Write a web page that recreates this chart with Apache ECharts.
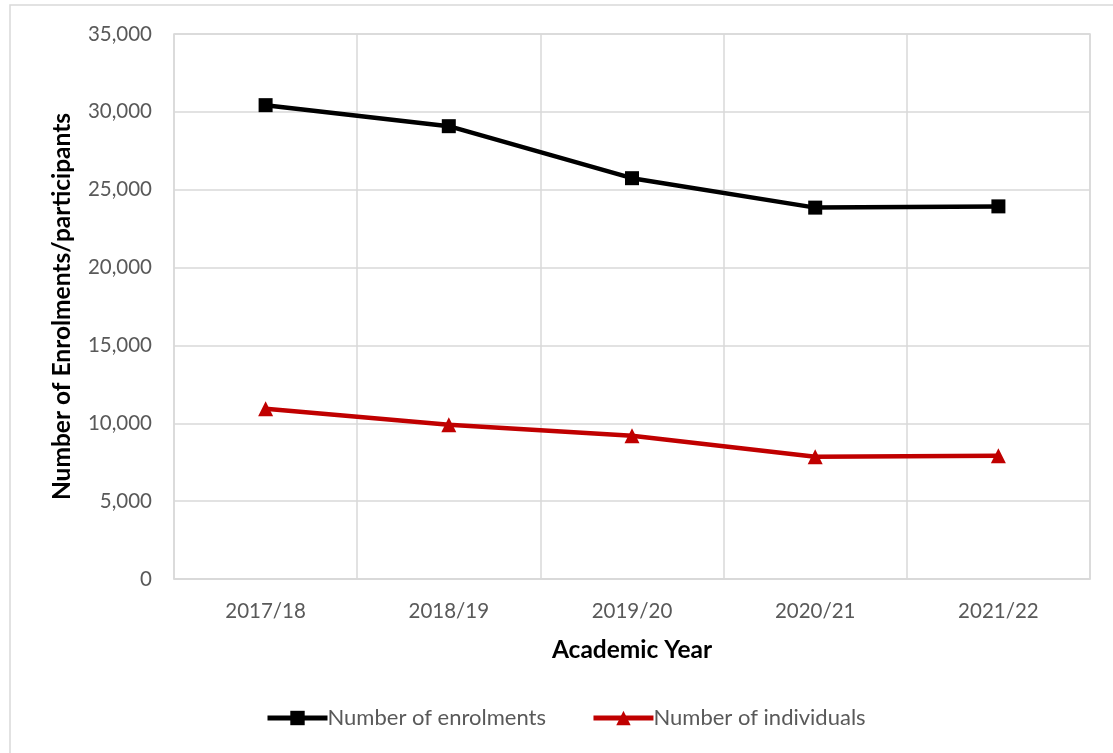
<!DOCTYPE html>
<html>
<head>
<meta charset="utf-8">
<script src="https://cdn.jsdelivr.net/npm/echarts@6/dist/echarts.min.js"></script>
<style>
html,body{margin:0;padding:0;background:#fff;}
#c{width:1113px;height:753px;}
</style>
</head>
<body>
<div id="c"></div>
<script>
const categories = ['2017/18', '2018/19', '2019/20', '2020/21', '2021/22'];
const enrolments = [30430, 29080, 25740, 23850, 23930];
const individuals = [10940, 9900, 9200, 7850, 7910];
const seriesNames = ['Number of enrolments', 'Number of individuals'];
const xTitle = 'Academic Year';
const yTitle = 'Number of Enrolments/participants';

const font = 'Lato, "Open Sans", sans-serif';
const chart = echarts.init(document.getElementById('c'), null, {renderer: 'canvas'});
chart.setOption({
  animation: false,
  backgroundColor: '#fff',
  graphic: [{
    type: 'rect',
    shape: {x: 10, y: 5, width: 1200, height: 900},
    style: {fill: 'none', stroke: '#d9d9d9', lineWidth: 1.5},
    silent: true
  }],
  grid: {
    left: 174, top: 34, right: 23, bottom: 174,
    show: true, borderColor: '#d9d9d9', borderWidth: 1.5, backgroundColor: 'transparent'
  },
  legend: {
    bottom: 19, left: 260,
    itemWidth: 60, itemHeight: 18, itemGap: 45,
    lineStyle: {width: 5},
    textStyle: {fontFamily: font, fontSize: 22, color: '#595959', padding: [0, 0, 0, -5]},
    data: seriesNames
  },
  xAxis: {
    type: 'category', data: categories, boundaryGap: true,
    name: xTitle, nameLocation: 'middle', nameGap: 59,
    nameTextStyle: {fontFamily: font, fontSize: 24.5, fontWeight: 'bold', color: '#000'},
    axisLine: {show: true, lineStyle: {color: '#d9d9d9', width: 1.5}},
    axisTick: {show: false},
    axisLabel: {fontFamily: font, fontSize: 20.5, color: '#595959', margin: 22},
    splitLine: {show: true, lineStyle: {color: '#d9d9d9', width: 1.5}}
  },
  yAxis: {
    type: 'value', min: 0, max: 35000, interval: 5000,
    name: yTitle, nameLocation: 'middle', nameGap: 99, nameRotate: 90,
    nameTextStyle: {fontFamily: font, fontSize: 24.5, fontWeight: 'bold', color: '#000'},
    axisLine: {show: false},
    axisTick: {show: false},
    axisLabel: {fontFamily: font, fontSize: 20.5, color: '#595959', margin: 22,
      formatter: v => v.toLocaleString('en-US')},
    splitLine: {show: true, lineStyle: {color: '#d9d9d9', width: 1.5}}
  },
  series: [
    {
      name: seriesNames[0], type: 'line', data: enrolments,
      symbol: 'rect', symbolSize: 14,
      lineStyle: {color: '#000', width: 4.5},
      itemStyle: {color: '#000'}
    },
    {
      name: seriesNames[1], type: 'line', data: individuals,
      symbol: 'triangle', symbolSize: 15,
      lineStyle: {color: '#C00000', width: 4.5},
      itemStyle: {color: '#C00000'}
    }
  ]
});
</script>
</body>
</html>
